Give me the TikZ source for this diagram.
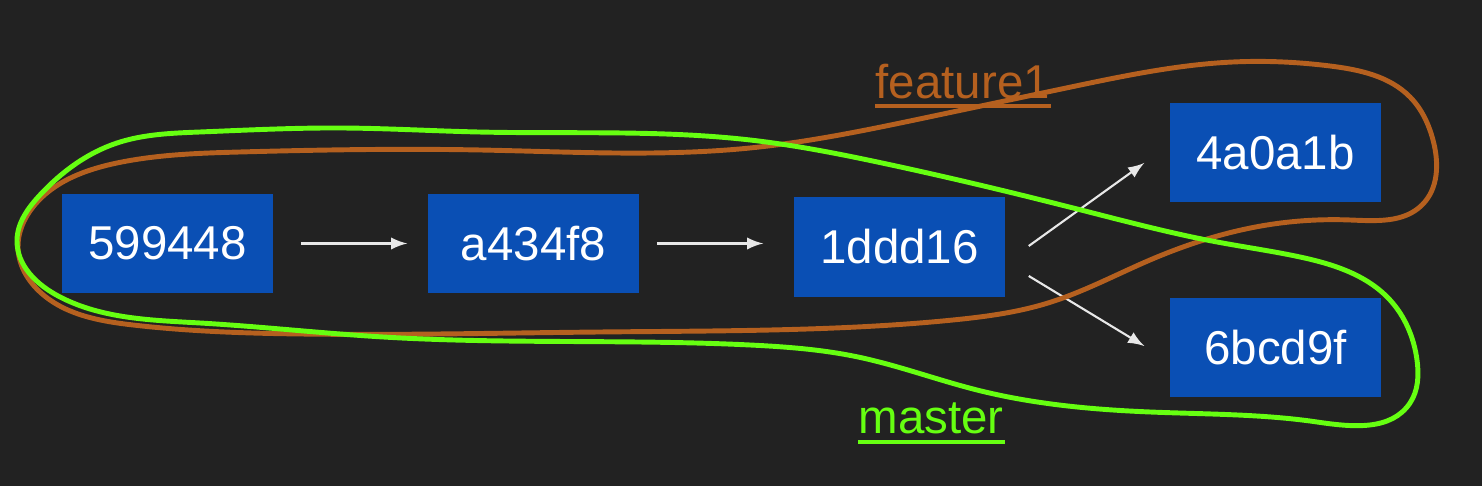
\documentclass[tikz,border=0pt]{standalone}
\usepackage{fontspec}
\setmainfont{Liberation Sans}
\usepackage{tikz}
\usetikzlibrary{calc}
\usetikzlibrary{arrows}
\usetikzlibrary{hobby}
\definecolor{bgcol}{RGB}{34,34,34}
\definecolor{commitcol}{RGB}{10,79,180}
\definecolor{featcol}{RGB}{181,96,31}
\definecolor{mastcol}{RGB}{102,255,17}
\definecolor{linkcol}{RGB}{232,232,232}
\begin{document}
\begin{tikzpicture}[x=0.01cm,y=-0.01cm,
        commit/.style={fill=commitcol, text=white, minimum width=2.11cm, minimum height=0.99cm, inner sep=0pt, font=\fontsize{13.5}{16}\selectfont},
        link/.style={draw=linkcol, line width=0.6pt, -latex},
        branchline/.style={line width=1.4pt, line cap=round, line join=round, use Hobby shortcut, closed=true},
        branchname/.style={inner sep=0pt, anchor=base west, font=\fontsize{13.5}{16}\selectfont}]
                \fill[bgcol] (0,0) rectangle (1482,486);
                \useasboundingbox (0,0) rectangle (1482,486);
                \node[commit] (c1) at (167.5,243.5) {599448};
                \node[commit] (c2) at (533.5,243.5) {a434f8};
                \node[commit] (c3) at (899.5,247) {1ddd16};
                \node[commit] (c4) at (1275.5,152.5) {4a0a1b};
                \node[commit] (c5) at (1275.5,347.5) {6bcd9f};
                \draw[link] ($(c1.east)+(27,0)$) -- ($(c2.west)+(-20,0)$);
                \draw[link] ($(c2.east)+(17,0)$) -- ($(c3.west)+(-30,-3.5)$);
                \draw[link] ($(c3.east)+(23,-1)$) -- ($(c4.west)+(-25,10.5)$);
                \draw[link] ($(c3.east)+(23,29)$) -- ($(c5.west)+(-25,-1.5)$);
                \draw[branchline, featcol] (18,248) .. (33,207) .. (117,163) .. (240,152)
                    .. (480,150) .. (750,148) .. (929,117) .. (1071,87) .. (1233,62) .. (1330,66)
                    .. (1410,97) .. (1433,140) .. (1422,205) .. (1350,220) .. (1267,225)
                    .. (1150,260) .. (1048,303) .. (953,320) .. (835,328) .. (600,332) .. (300,334)
                    .. (133,325) .. (40,292);
                \draw[branchline, mastcol] (17,240) .. (40,195) .. (117,143) .. (200,132)
                    .. (340,128) .. (478,132) .. (750,140) .. (882,163) .. (1081,210) .. (1217,242)
                    .. (1300,257) .. (1390,300) .. (1417,360) .. (1410,403) .. (1317,422)
                    .. (1150,412) .. (977,390) .. (858,357) .. (750,345) .. (383,337) .. (200,323)
                    .. (60,297);
                \node[branchname, text=featcol] (feat) at (875,99) {feature1};
                \draw[featcol, line width=1pt] ($(feat.south west)+(0,6)$) -- ($(feat.south east)+(0,6)$);
                \node[branchname, text=mastcol] (mast) at (858,434) {master};
                \draw[mastcol, line width=1pt] ($(mast.south west)+(0,7)$) -- ($(mast.south east)+(0,7)$);
\end{tikzpicture}
\end{document}
